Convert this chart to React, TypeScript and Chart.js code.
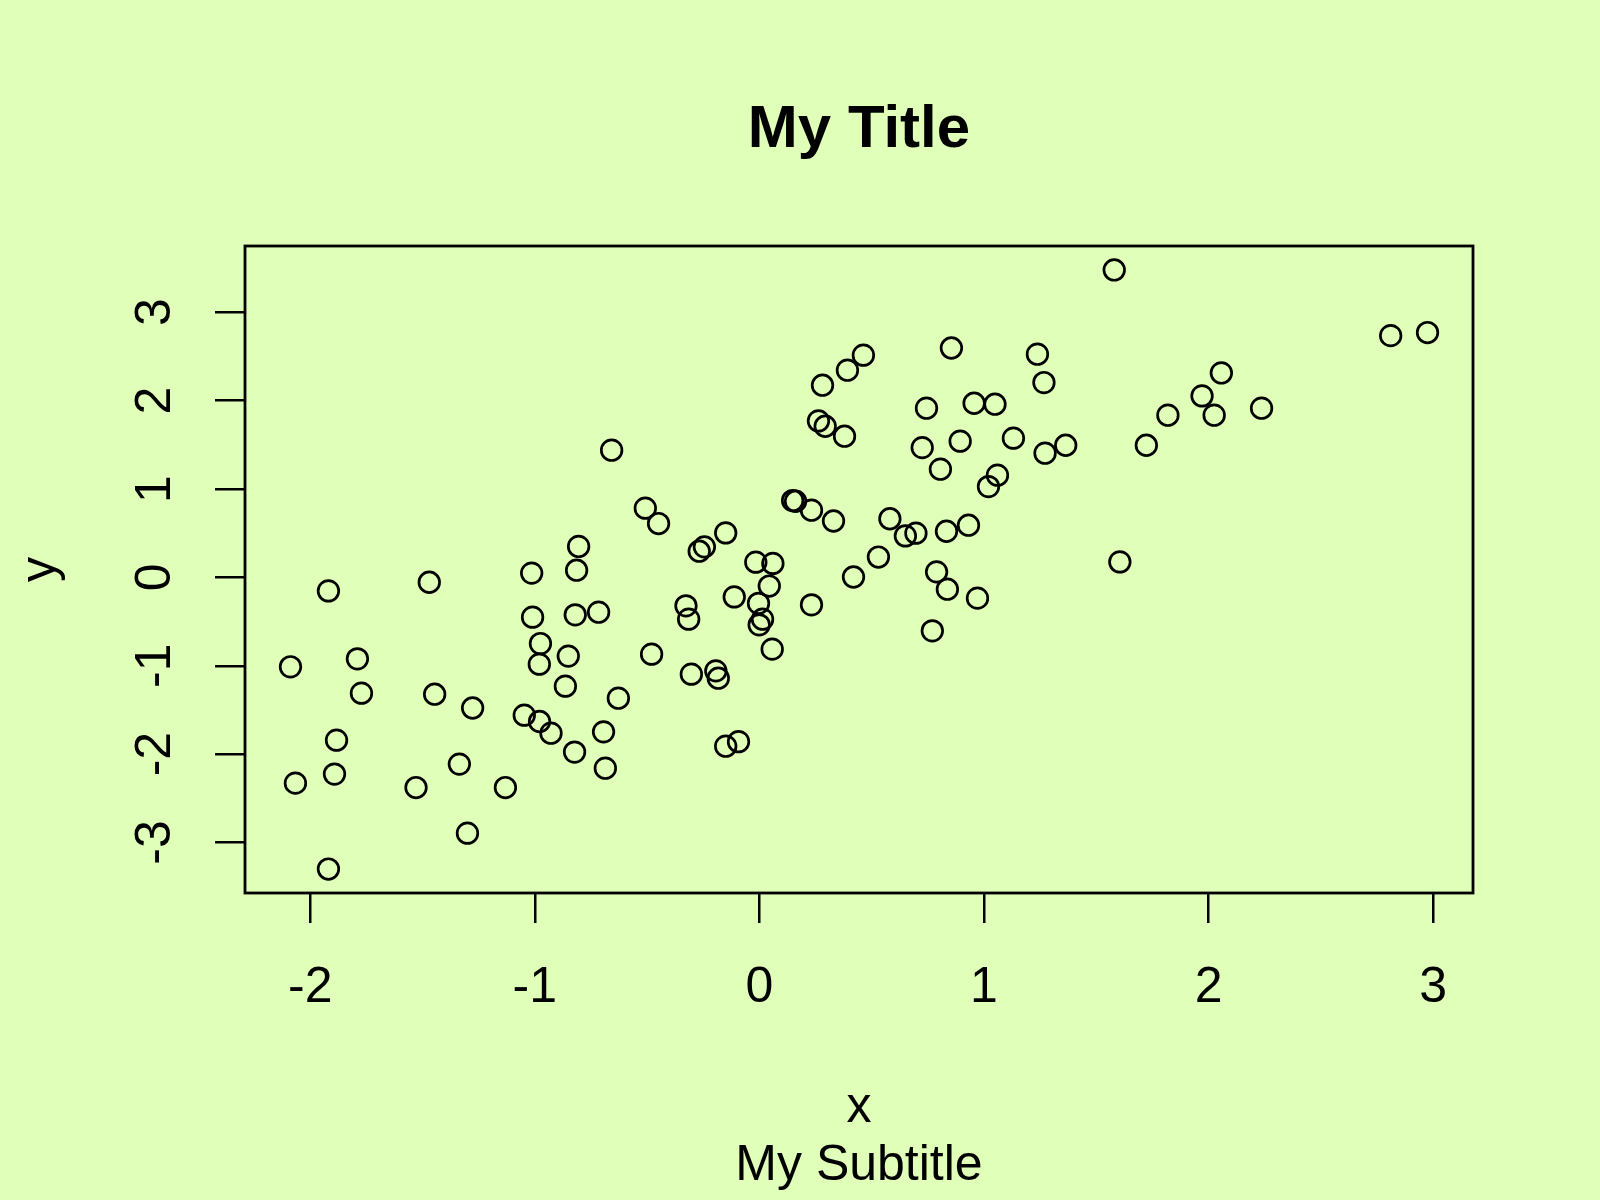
import { useEffect, useRef } from "react";
import { Chart, registerables } from "chart.js";

Chart.register(...registerables);

// data (x, y pairs)
const xValues = [
  -2.088, -2.066, -1.919, -1.919, -1.892, -1.883, -1.79, -1.772, -1.529, -1.47,
  -1.446, -1.336, -1.3, -1.277, -1.131, -1.047, -1.014, -1.01, -0.975, -0.98,
  -0.979, -0.928, -0.864, -0.851, -0.823, -0.82, -0.814, -0.805, -0.716, -0.694,
  -0.686, -0.658, -0.628, -0.508, -0.48, -0.449, -0.327, -0.315, -0.303, -0.268,
  -0.245, -0.194, -0.183, -0.15, -0.15, -0.112, -0.093, -0.016, -0.004, -0.001,
  0.014, 0.044, 0.057, 0.06, 0.148, 0.161, 0.232, 0.232, 0.263, 0.281,
  0.293, 0.33, 0.379, 0.392, 0.419, 0.463, 0.53, 0.581, 0.65, 0.697,
  0.725, 0.744, 0.77, 0.789, 0.806, 0.833, 0.837, 0.855, 0.894, 0.931,
  0.956, 0.971, 1.02, 1.049, 1.06, 1.131, 1.238, 1.267, 1.272, 1.364,
  1.58, 1.605, 1.723, 1.819, 1.971, 2.025, 2.057, 2.236, 2.811, 2.975,
];

const yValues = [
  -1.012, -2.328, -0.153, -3.3, -2.226, -1.842, -0.922, -1.31, -2.378, -0.055,
  -1.322, -2.113, -2.894, -1.478, -2.378, -1.559, 0.048, -0.45, -0.749, -0.982,
  -1.631, -1.763, -1.231, -0.891, -1.977, -0.424, 0.081, 0.35, -0.394, -1.748,
  -2.159, 1.439, -1.367, 0.783, -0.869, 0.609, -0.322, -0.473, -1.095, 0.296,
  0.345, -1.058, -1.141, 0.503, -1.91, -0.221, -1.859, 0.172, -0.294, -0.537,
  -0.473, -0.098, -0.812, 0.158, 0.869, 0.861, 0.76, -0.311, 1.77, 2.174,
  1.71, 0.638, 1.597, 2.344, 0.004, 2.514, 0.23, 0.663, 0.469, 0.5,
  1.468, 1.914, -0.605, 0.062, 1.224, 0.522, -0.134, 2.595, 1.541, 0.59,
  1.97, -0.235, 1.027, 1.959, 1.156, 1.575, 2.525, 2.204, 1.405, 1.495,
  3.478, 0.175, 1.495, 1.835, 2.053, 1.835, 2.313, 1.914, 2.735, 2.77,
];

const xTicks = [-2, -1, 0, 1, 2, 3];
const yTicks = [-3, -2, -1, 0, 1, 2, 3];

const mainTitle = "My Title";
const subTitle = "My Subtitle";
const xLabel = "x";
const yLabel = "y";

const BG = "#e0ffb8";
const FONT = "'Liberation Sans', Arial, Helvetica, sans-serif";

// like R: data range stretched by 4% on each side
const paddedRange = (vals: number[]) => {
  const lo = Math.min(...vals);
  const hi = Math.max(...vals);
  const d = (hi - lo) * 0.04;
  return [lo - d, hi + d];
};

const backgroundPlugin = {
  id: "bgFill",
  beforeDraw(chart: any) {
    const ctx = chart.ctx;
    ctx.save();
    ctx.fillStyle = BG;
    ctx.fillRect(0, 0, chart.width, chart.height);
    ctx.restore();
  },
};

// R centres main title and subtitle over the plot region, not the whole device
const centerTitlesPlugin = {
  id: "centerTitles",
  afterLayout(chart: any) {
    const { left, right } = chart.chartArea;
    chart.boxes.forEach((box: any) => {
      const txt = box.options && box.options.text;
      if (txt === mainTitle || txt === subTitle) {
        box.left = left;
        box.right = right;
        box.width = right - left;
      }
    });
  },
};

const boxPlugin = {
  id: "plotBox",
  afterDraw(chart: any) {
    const { left, top, right, bottom } = chart.chartArea;
    const ctx = chart.ctx;
    ctx.save();
    ctx.strokeStyle = "#000";
    ctx.lineWidth = 2.8;
    ctx.strokeRect(left, top, right - left, bottom - top);
    ctx.restore();
  },
};

const ScatterPlot = () => {
  const canvasRef = useRef<HTMLCanvasElement>(null);
  const chartRef = useRef<Chart | null>(null);

  useEffect(() => {
    if (!canvasRef.current) return;
    if (chartRef.current) chartRef.current.destroy();

    const [xMin, xMax] = paddedRange(xValues);
    const [yMin, yMax] = paddedRange(yValues);

    const axisGrid = {
      drawOnChartArea: false,
      drawTicks: true,
      tickLength: 30,
      tickColor: "#000",
      tickWidth: 2.5,
      color: "#000",
      lineWidth: 2.5,
    };

    chartRef.current = new Chart(canvasRef.current, {
      type: "scatter",
      data: {
        datasets: [
          {
            data: xValues.map((x, i) => ({ x, y: yValues[i] })),
            pointStyle: "circle",
            pointRadius: 10.3,
            pointHoverRadius: 10.3,
            pointBorderWidth: 2.7,
            borderColor: "#000",
            backgroundColor: "rgba(0,0,0,0)",
          },
        ],
      },
      options: {
        responsive: false,
        animation: false,
        devicePixelRatio: 1,
        layout: { padding: { left: 0, right: 127, top: 0, bottom: 0 } },
        scales: {
          x: {
            type: "linear",
            position: "bottom",
            min: xMin,
            max: xMax,
            afterBuildTicks: (axis: any) => {
              axis.ticks = xTicks.map((v) => ({ value: v }));
            },
            afterFit: (scale: any) => {
              scale.height = 243;
            },
            grid: axisGrid,
            border: { display: false },
            ticks: {
              color: "#000",
              font: { family: FONT, size: 50 },
              padding: 35,
              maxRotation: 0,
              autoSkip: false,
              callback: (v: any) => String(v),
            },
            title: {
              display: true,
              text: xLabel,
              color: "#000",
              font: { family: FONT, size: 50 },
              padding: { top: 0, bottom: -2 },
            },
          },
          y: {
            type: "linear",
            position: "left",
            min: yMin,
            max: yMax,
            afterBuildTicks: (axis: any) => {
              axis.ticks = yTicks.map((v) => ({ value: v }));
            },
            afterFit: (scale: any) => {
              scale.width = 245;
            },
            grid: axisGrid,
            border: { display: false },
            ticks: {
              color: "#000",
              font: { family: FONT, size: 50 },
              padding: 37,
              minRotation: 90,
              maxRotation: 90,
              crossAlign: "center",
              autoSkip: false,
              callback: (v: any) => String(v),
            },
            title: {
              display: true,
              text: yLabel,
              color: "#000",
              font: { family: FONT, size: 50 },
              padding: { top: 11.5, bottom: 0 },
            },
          },
        },
        plugins: {
          legend: { display: false },
          tooltip: { enabled: false },
          title: {
            display: true,
            text: mainTitle,
            color: "#000",
            font: { family: FONT, size: 60, weight: "bold" },
            padding: { top: 94, bottom: 80 },
          },
          subtitle: {
            display: true,
            position: "bottom",
            text: subTitle,
            color: "#000",
            font: { family: FONT, size: 50 },
            padding: { top: 0, bottom: 4 },
          },
        },
      } as any,
      plugins: [backgroundPlugin, centerTitlesPlugin, boxPlugin],
    });

    return () => {
      if (chartRef.current) {
        chartRef.current.destroy();
        chartRef.current = null;
      }
    };
  }, []);

  return <canvas ref={canvasRef} width={1600} height={1200} />;
};

export default function App() {
  return (
    <div
      style={{
        position: "absolute",
        left: 0,
        top: 0,
        width: 1600,
        height: 1200,
        background: BG,
        overflow: "hidden",
      }}
    >
      <ScatterPlot />
    </div>
  );
}
